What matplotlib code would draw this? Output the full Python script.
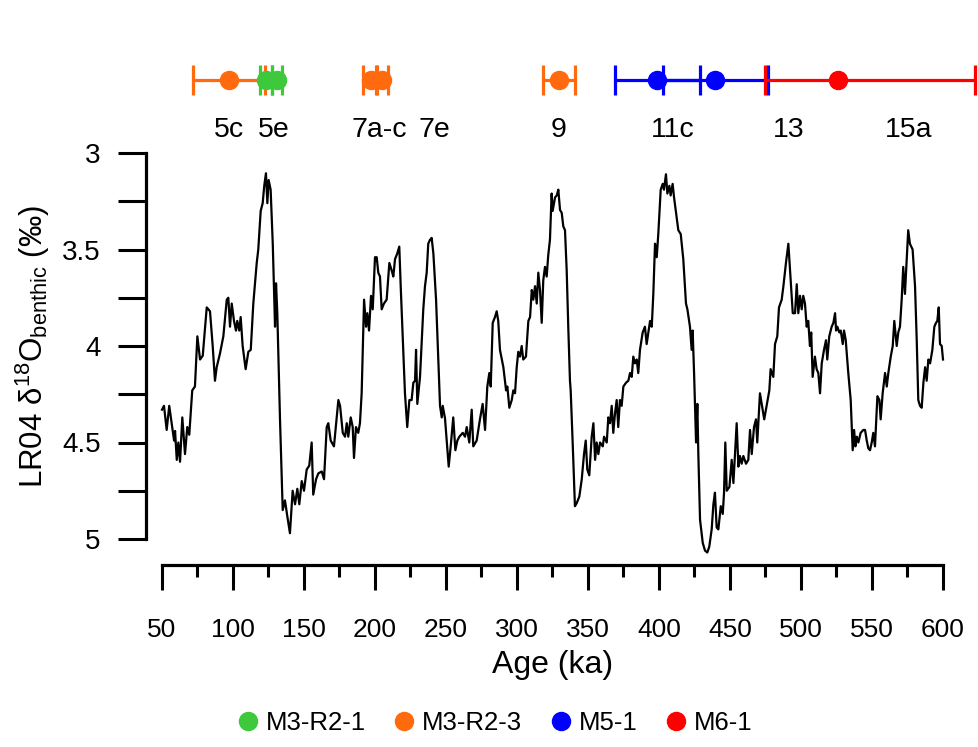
import matplotlib
matplotlib.use("Agg")
import matplotlib.pyplot as plt
from matplotlib.lines import Line2D
import numpy as np

plt.rcParams['font.family'] = ['Liberation Sans', 'DejaVu Sans']
plt.rcParams['mathtext.fontset'] = 'custom'
plt.rcParams['mathtext.rm'] = 'Liberation Sans'
plt.rcParams['mathtext.it'] = 'Liberation Sans:italic'

# ---------------- LR04 benthic d18O stack ----------------
age_1 = [50.0, 51.4, 53.3, 55.1, 56.8, 58.5, 59.2, 60.4, 61.5, 62.7,
         64.3, 66.2, 67.8, 69.2, 71.3, 73.2, 74.9, 76.8, 78.7, 81.5,
         83.8, 85.7, 87.3, 88.5, 90.8, 93.2, 95.6, 96.7, 97.9, 99.1,
         100.7, 102.1, 103.0, 104.4, 105.4, 106.8, 108.9, 110.8, 112.5, 114.3,
         116.7, 117.8, 119.5, 120.9, 122.0, 123.2, 124.2, 125.1, 126.5, 128.0,
         129.6]
d18o_1 = [4.33, 4.31, 4.435, 4.31, 4.40, 4.49, 4.44, 4.59, 4.50, 4.60,
          4.37, 4.56, 4.42, 4.46, 4.23, 4.21, 3.95, 4.07, 4.05, 3.80,
          3.82, 4.00, 4.18, 4.11, 4.04, 3.95, 3.76, 3.75, 3.90, 3.78,
          3.87, 3.92, 3.87, 3.92, 3.85, 4.00, 4.12, 4.03, 4.02, 3.78,
          3.57, 3.50, 3.30, 3.26, 3.17, 3.105, 3.26, 3.14, 3.19, 3.47,
          3.90]

age_2 = [130.3, 131.2, 133.1, 135.0, 136.6, 138.2, 140.1, 142.0, 143.7, 145.3,
         146.7, 148.4, 150.0, 151.9, 153.7, 155.4, 156.5, 158.5, 160.1, 162.5,
         164.1, 166.0, 167.1, 168.8, 171.1, 174.2, 175.4, 177.3, 178.9, 180.1,
         181.2, 182.9, 184.3, 185.2, 186.6, 188.2, 189.4, 190.6, 192.3, 193.7,
         194.6, 195.8, 197.2, 198.4, 200.0, 201.2, 202.3, 203.5, 204.7, 206.3,
         208.2, 210.1, 211.8, 212.9, 214.1, 215.7, 217.1, 218.1, 219.5, 221.1,
         222.7, 224.2, 225.8, 227.0, 228.2, 228.9, 229.8, 231.7, 234.0, 235.2,
         236.4, 237.5, 238.7, 239.9, 241.1, 243.0, 244.6, 245.8, 247.0, 247.7,
         249.3, 250.5, 251.9, 253.3, 255.1, 256.6, 258.0, 259.4]
d18o_2 = [3.675, 3.83, 4.38, 4.85, 4.80, 4.88, 4.97, 4.75, 4.82, 4.74,
          4.82, 4.70, 4.75, 4.64, 4.62, 4.50, 4.77, 4.69, 4.66, 4.65,
          4.69, 4.42, 4.40, 4.49, 4.52, 4.28, 4.31, 4.45, 4.47, 4.40,
          4.47, 4.37, 4.42, 4.58, 4.42, 4.45, 4.40, 4.245, 3.76, 3.90,
          3.83, 3.92, 3.74, 3.81, 3.54, 3.54, 3.62, 3.64, 3.81, 3.78,
          3.76, 3.57, 3.61, 3.64, 3.55, 3.52, 3.485, 3.69, 3.95, 4.245,
          4.42, 4.28, 4.28, 4.19, 4.18, 4.02, 4.30, 4.16, 3.81, 3.69,
          3.62, 3.47, 3.45, 3.44, 3.52, 3.76, 4.07, 4.31, 4.37, 4.31,
          4.375, 4.49, 4.625, 4.52, 4.37, 4.54, 4.49, 4.47]

age_3 = [261.8, 263.4, 264.6, 266.4, 268.1, 269.2, 271.6, 273.9, 275.8, 277.5,
         279.1, 280.5, 281.5, 282.9, 284.5, 285.7, 286.8, 288.0, 290.4, 292.3,
         293.2, 294.6, 296.3, 297.4, 298.6, 299.8, 300.9, 302.1, 303.3, 304.4,
         306.3, 308.0, 309.2, 310.4, 311.5, 312.7, 313.9, 315.0, 316.2, 317.4,
         318.5, 319.7, 320.9, 322.0, 323.2, 324.4, 325.1, 326.8, 328.0, 329.1,
         330.3, 331.5, 332.6, 333.8, 335.0, 336.1, 337.3, 337.8, 339.2, 340.8,
         342.0, 343.9, 345.6, 347.2, 348.4, 349.5, 350.9, 352.6, 353.8, 355.0,
         356.1, 357.3, 358.5, 360.4, 361.3, 363.2, 364.3, 365.5, 366.7, 367.8,
         369.0, 370.2, 371.3, 372.5, 373.7, 374.9, 376.8, 378.4, 379.6, 380.8,
         381.9, 383.1, 384.3, 385.4, 386.6, 388.5, 390.1, 391.3, 392.5, 393.7,
         394.9, 396.0, 397.2, 398.4, 399.5, 401.2, 402.6, 403.5, 404.9, 405.9,
         407.3, 408.2, 409.6, 410.6, 412.0, 413.6, 415.3, 417.1, 419.0, 420.0,
         421.8, 423.0, 423.7, 424.7, 426.1, 427.0, 427.7, 428.9]
d18o_3 = [4.45, 4.47, 4.42, 4.50, 4.33, 4.52, 4.49, 4.38, 4.30, 4.435,
          4.21, 4.14, 4.21, 3.88, 3.85, 3.82, 3.87, 4.02, 4.11, 4.23,
          4.21, 4.32, 4.28, 4.23, 4.245, 4.11, 4.03, 4.055, 4.00, 4.07,
          4.055, 3.87, 3.85, 3.71, 3.76, 3.69, 3.78, 3.62, 3.71, 3.88,
          3.66, 3.59, 3.64, 3.53, 3.45, 3.21, 3.30, 3.23, 3.22, 3.19,
          3.295, 3.31, 3.38, 3.40, 3.61, 3.90, 4.18, 4.23, 4.50, 4.83,
          4.815, 4.78, 4.69, 4.56, 4.49, 4.64, 4.67, 4.47, 4.40, 4.59,
          4.50, 4.56, 4.50, 4.52, 4.47, 4.50, 4.37, 4.40, 4.31, 4.45,
          4.35, 4.28, 4.42, 4.28, 4.31, 4.21, 4.19, 4.18, 4.14, 4.16,
          4.055, 4.09, 4.07, 4.14, 4.02, 3.93, 3.90, 3.99, 3.93, 3.87,
          3.90, 3.73, 3.47, 3.54, 3.42, 3.19, 3.16, 3.19, 3.11, 3.21,
          3.17, 3.22, 3.16, 3.23, 3.31, 3.40, 3.42, 3.55, 3.78, 3.81,
          3.90, 4.02, 3.92, 4.14, 4.50, 4.30, 4.56, 4.90]

age_4 = [430.8, 432.4, 434.0, 435.4, 437.1, 438.3, 439.4, 440.6, 441.8, 443.5,
         444.9, 445.8, 446.7, 447.7, 449.6, 451.2, 452.4, 453.5, 454.7, 455.9,
         457.0, 458.2, 459.4, 461.3, 462.9, 464.1, 465.3, 466.9, 468.3, 469.2,
         471.1, 473.0, 474.1, 475.8, 477.7, 478.6, 480.5, 481.7, 483.3, 484.5,
         486.4, 487.6, 489.4, 491.1, 492.3, 494.2, 495.8, 497.0, 498.1, 499.3,
         500.5, 501.6, 502.8, 504.0, 505.1, 506.3, 507.2, 508.2, 509.8, 511.0,
         512.2, 513.4, 514.6, 516.2, 517.6, 518.5, 519.9, 521.6, 522.8, 524.0,
         524.7, 525.6, 527.0, 528.0, 529.4, 530.3, 531.5, 533.3, 535.0, 536.4,
         537.4, 538.3, 539.3, 540.4, 542.0, 543.9, 545.1, 546.3, 547.4, 548.6,
         549.8, 550.9, 552.1, 553.8, 555.2, 556.1, 557.5, 559.2, 560.4, 561.5,
         563.2, 564.6, 565.7, 567.4, 568.5, 569.7, 570.9, 572.0, 573.2, 574.4,
         575.5, 576.7, 578.6, 580.3, 581.5, 582.6, 583.8, 585.0, 586.2, 587.4,
         588.5, 589.7, 590.9, 592.5, 593.9, 595.1, 596.0, 597.0, 597.9, 599.1,
         600.0]
d18o_4 = [5.02, 5.06, 5.07, 5.04, 4.95, 4.82, 4.76, 4.94, 4.95, 4.83,
          4.87, 4.76, 4.50, 4.75, 4.73, 4.59, 4.71, 4.56, 4.40, 4.625,
          4.57, 4.61, 4.57, 4.61, 4.59, 4.435, 4.56, 4.42, 4.38, 4.50,
          4.245, 4.33, 4.38, 4.31, 4.23, 4.12, 4.16, 3.99, 3.95, 3.80,
          3.76, 3.69, 3.57, 3.47, 3.61, 3.83, 3.83, 3.68, 3.83, 3.74,
          3.81, 3.74, 3.78, 3.90, 3.87, 4.00, 3.93, 4.16, 4.055, 4.12,
          4.14, 4.245, 4.09, 4.02, 3.97, 4.07, 3.95, 3.90, 3.88, 3.83,
          3.92, 3.90, 3.93, 3.92, 3.99, 3.92, 3.97, 4.14, 4.28, 4.54,
          4.435, 4.52, 4.47, 4.50, 4.45, 4.435, 4.435, 4.49, 4.53, 4.54,
          4.50, 4.45, 4.52, 4.26, 4.28, 4.38, 4.245, 4.14, 4.21, 4.14,
          4.055, 4.00, 3.87, 4.00, 3.93, 3.90, 3.76, 3.59, 3.73, 3.555,
          3.40, 3.47, 3.50, 3.69, 3.97, 4.28, 4.31, 4.32, 4.19, 4.11,
          4.18, 4.07, 4.09, 4.02, 3.90, 3.88, 3.87, 3.80, 3.99, 4.00,
          4.07]

# ---------------- dated samples (age, lower bound, upper bound, ka) ----------------
samples = ['M3-R2-1', 'M3-R2-3', 'M5-1', 'M6-1']
colors = ['#3ec83c', '#ff6a0e', '#0000ff', '#ff0000']
m3r21_age = [123.2, 131.0]
m3r21_lo = [119.0, 127.5]
m3r21_hi = [127.4, 134.5]
m3r23_age = [97.2, 197.2, 204.9, 329.6]
m3r23_lo = [71.8, 191.5, 200.7, 318.3]
m3r23_hi = [122.6, 201.4, 209.2, 340.8]
m51_age = [398.6, 439.4]
m51_lo = [369.0, 402.8]
m51_hi = [428.9, 476.8]
m61_age = [526.1]
m61_lo = [474.6]
m61_hi = [622.5]

# MIS labels
mis_labels = ['5c', '5e', '7a-c', '7e', '9', '11c', '13', '15a']
mis_pos = [96.8, 128.9, 202.8, 241.5, 329.6, 409.9, 491.2, 576.1]

# ---------------- figure ----------------
W, H = 979, 747
fig = plt.figure(figsize=(W / 100, H / 100), dpi=100)

x0, x1 = 162, 943      # pixel positions of 50 and 600 ka
ytop, ybot = 153, 539  # pixel positions of 3 and 5 permil
ax = fig.add_axes([x0 / W, 1 - ybot / H, (x1 - x0) / W, (ybot - ytop) / H])
ax.patch.set_alpha(0)

age = np.concatenate([age_1, age_2, age_3, age_4])
d18o = np.concatenate([d18o_1, d18o_2, d18o_3, d18o_4])
ax.plot(age, d18o, color='black', lw=1.6, clip_on=False)

ax.set_xlim(50, 600)
ax.set_ylim(5, 3)

for s in ['top', 'right']:
    ax.spines[s].set_visible(False)
px2pt = 72 / 100
ax.spines['left'].set_position(('outward', 16.5 * px2pt))
ax.spines['bottom'].set_position(('outward', 26 * px2pt))
ax.spines['left'].set_bounds(3, 5)
ax.spines['bottom'].set_bounds(50, 600)
for s in ['left', 'bottom']:
    ax.spines[s].set_linewidth(2.3)

ax.set_xticks(np.arange(50, 601, 50))
ax.set_xticks(np.arange(75, 600, 50), minor=True)
ax.set_yticks([3, 3.5, 4, 4.5, 5])
ax.set_yticklabels(['3', '3.5', '4', '4.5', '5'])
ax.set_yticks([3.25, 3.75, 4.25, 4.75], minor=True)
ax.tick_params(axis='x', which='major', length=25 * px2pt, width=2.2, pad=20,
               labelsize=19, direction='out')
ax.tick_params(axis='x', which='minor', length=12 * px2pt, width=2.2, direction='out')
ax.tick_params(axis='y', which='both', length=28 * px2pt, width=2.2, pad=12,
               labelsize=20, direction='out')

ax.set_xlabel('Age (ka)', fontsize=23)
ax.xaxis.set_label_coords(0.5, -(665 - ybot) / (ybot - ytop))
ax.xaxis.label.set_va('center')
ax.set_ylabel('LR04 δ$^{18}$O$_{\\mathrm{benthic}}$ (‰)', fontsize=22.5)
ax.yaxis.set_label_coords(-(x0 - 33) / (x1 - x0), 0.5)
ax.yaxis.label.set_va('center')

# ---------------- top panel with dated samples ----------------
tb, tt = 145, 55
ax2 = fig.add_axes([x0 / W, 1 - tb / H, (x1 - x0) / W, (tb - tt) / H])
ax2.set_xlim(50, 600)
ax2.set_ylim(0, 1)
ax2.axis('off')
bar_y = (tb - 80) / (tb - tt)
lab_y = (tb - 130) / (tb - tt)

groups = [(m3r21_age, m3r21_lo, m3r21_hi),
          (m3r23_age, m3r23_lo, m3r23_hi),
          (m51_age, m51_lo, m51_hi),
          (m61_age, m61_lo, m61_hi)]
for (a, lo, hi), c in zip(groups, colors):
    a = np.array(a); lo = np.array(lo); hi = np.array(hi)
    cont = ax2.errorbar(a, np.full(len(a), bar_y), xerr=[a - lo, hi - a],
                        fmt='o', color=c, ms=13, elinewidth=2.3, capsize=11,
                        capthick=2.3, mec=c)
    for art in cont.get_children():
        art.set_clip_on(False)

for lab, x in zip(mis_labels, mis_pos):
    ax2.text(x, lab_y, lab, ha='center', va='center', fontsize=20.5)

# ---------------- legend ----------------
handles = [Line2D([], [], ls='none', marker='o', ms=13, color=c) for c in colors]
fig.legend(handles, samples, loc='center', bbox_to_anchor=(495 / W, 1 - 723 / H),
           ncol=4, frameon=False, fontsize=18.5, handlelength=0.8, handletextpad=0.3,
           columnspacing=1.1, borderpad=0)

fig.savefig('out.png', dpi=100)
